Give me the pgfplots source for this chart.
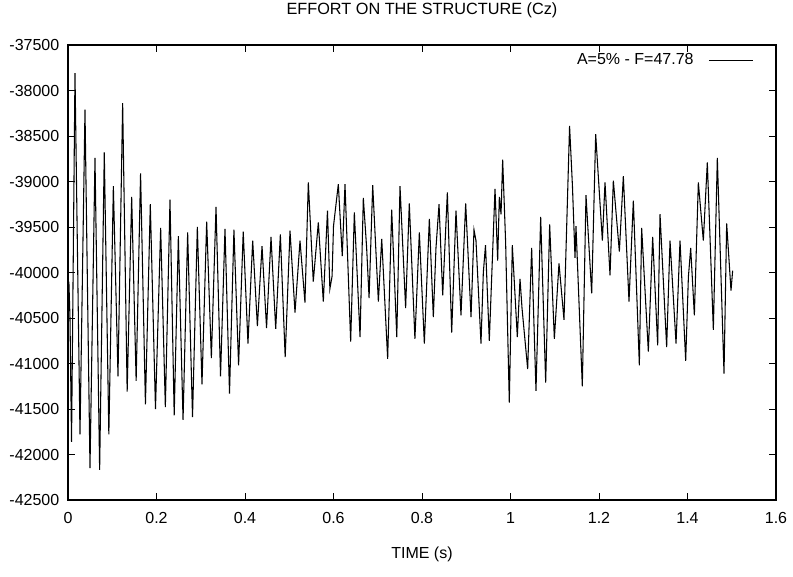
\documentclass[border=0pt]{standalone}
\usepackage{fontspec}
\setmainfont{Liberation Sans}
\usepackage{pgfplots}
\pgfplotsset{compat=1.18}
\begin{document}
\begin{tikzpicture}
\useasboundingbox (-51pt,-57pt) rectangle (543.75pt,375pt);
\begin{axis}[
    scale only axis,
    width=531pt, height=341.25pt,
    xmin=0, xmax=1.6,
    ymin=-42500, ymax=-37500,
    xtick={0,0.2,0.4,0.6,0.8,1,1.2,1.4,1.6},
    ytick={-42500,-42000,-41500,-41000,-40500,-40000,-39500,-39000,-38500,-38000,-37500},
    scaled y ticks=false,
    /pgf/number format/assume math mode=true,
    /pgf/number format/1000 sep={},
    tick align=inside,
    major tick length=5pt,
    every tick/.style={black, line width=0.7pt},
    axis line style={line width=1pt},
    tick label style={font=\fontsize{12}{14}\selectfont},
    yticklabel style={xshift=-3pt},
    xticklabel style={yshift=-6pt},
    title={EFFORT ON THE STRUCTURE (Cz)},
    title style={font=\fontsize{12.2}{14}\selectfont, at={(axis description cs:0.5,1)}, anchor=center, yshift=20pt},
    xlabel={TIME (s)},
    xlabel style={font=\fontsize{12}{14}\selectfont, at={(axis description cs:0.5,0)}, anchor=center, yshift=-40.5pt},
    legend plot pos=right,
    legend image code/.code={\path (0pt,0pt); \draw[#1] (9pt,0pt) -- (42pt,0pt);},
    legend style={draw=none, fill=none, at={(axis description cs:0.974,0.993)}, anchor=north east,
        font=\fontsize{12}{14}\selectfont},
]
% effort signal, peaks and troughs
\addplot[black, line width=0.8pt] coordinates {
(0,-40300) (0.002,-40100) (0.0045,-40500) (0.008,-41860)
(0.0158,-37810) (0.0271,-41780) (0.0384,-38210) (0.0497,-42150)
(0.061,-38740) (0.0715,-42170) (0.082,-38680) (0.0923,-41780)
(0.1025,-39050) (0.113,-41140) (0.1235,-38140) (0.1337,-41310)
(0.1439,-39170) (0.154,-41190) (0.164,-38910) (0.175,-41450)
(0.186,-39250) (0.1977,-41500) (0.2094,-39510) (0.22,-41480)
(0.2305,-39200) (0.24,-41570) (0.2494,-39600) (0.26,-41620)
(0.2704,-39560) (0.2814,-41590) (0.2923,-39500) (0.3028,-41230)
(0.3134,-39440) (0.324,-40940) (0.3345,-39280) (0.3447,-41140)
(0.3548,-39520) (0.365,-41330) (0.375,-39530) (0.3855,-41020)
(0.396,-39550) (0.4067,-40780) (0.4174,-39650) (0.428,-40590)
(0.4385,-39710) (0.4487,-40610) (0.4588,-39610) (0.4694,-40620)
(0.4799,-39580) (0.4908,-40930) (0.5017,-39540) (0.513,-40440)
(0.5243,-39650) (0.5355,-40330) (0.5431,-39010) (0.5543,-40100)
(0.5657,-39450) (0.577,-40320) (0.5864,-39320) (0.5918,-40180)
(0.5968,-40040) (0.6,-39490) (0.6109,-39030) (0.6198,-39820)
(0.626,-39030) (0.6388,-40760) (0.6471,-39340) (0.66,-40710)
(0.6674,-39180) (0.6749,-39730) (0.6804,-40280) (0.6886,-39040)
(0.7014,-40320) (0.709,-39630) (0.7224,-40950) (0.7315,-39310)
(0.743,-40710) (0.7503,-39050) (0.763,-40390) (0.7713,-39240)
(0.784,-40730) (0.794,-39560) (0.8053,-40780) (0.8166,-39410)
(0.8256,-40490) (0.8316,-39730) (0.8385,-39250) (0.8468,-40250)
(0.8573,-39120) (0.8671,-40660) (0.8768,-39320) (0.8881,-40470)
(0.8987,-39240) (0.9108,-40490) (0.9175,-39530) (0.922,-39650)
(0.9333,-40780) (0.9386,-40000) (0.9435,-39700) (0.9521,-40750)
(0.965,-39080) (0.971,-39870) (0.9748,-39170) (0.9786,-39360)
(0.9823,-38760) (0.989,-39670) (0.9973,-41430) (1.0041,-39700)
(1.0154,-40710) (1.0215,-40070) (1.026,-40390) (1.0388,-41060)
(1.0478,-39730) (1.0576,-41300) (1.0682,-39390) (1.0795,-41210)
(1.0885,-39470) (1.0991,-40730) (1.1096,-39900) (1.1209,-40520)
(1.1335,-38390) (1.140,-39050) (1.1458,-39840) (1.148,-39490)
(1.1623,-41250) (1.1706,-39150) (1.1835,-40230) (1.1925,-38480)
(1.2076,-39650) (1.2136,-39010) (1.2249,-40030) (1.2324,-38990)
(1.246,-39770) (1.255,-38940) (1.2678,-40320) (1.2776,-39210)
(1.2912,-41020) (1.2964,-39510) (1.3115,-40870) (1.3213,-39610)
(1.3326,-40800) (1.3379,-39360) (1.3529,-40820) (1.3605,-39650)
(1.3741,-40780) (1.3831,-39650) (1.3959,-40970) (1.402,-40050)
(1.4072,-39730) (1.4155,-40470) (1.4245,-39010) (1.4358,-39650)
(1.4448,-38790) (1.4584,-40630) (1.4674,-38740) (1.4825,-41110)
(1.4885,-39460) (1.4983,-40200) (1.502,-39980)
};
\addlegendentry{A=5\% - F=47.78}
\end{axis}
\end{tikzpicture}
\end{document}
